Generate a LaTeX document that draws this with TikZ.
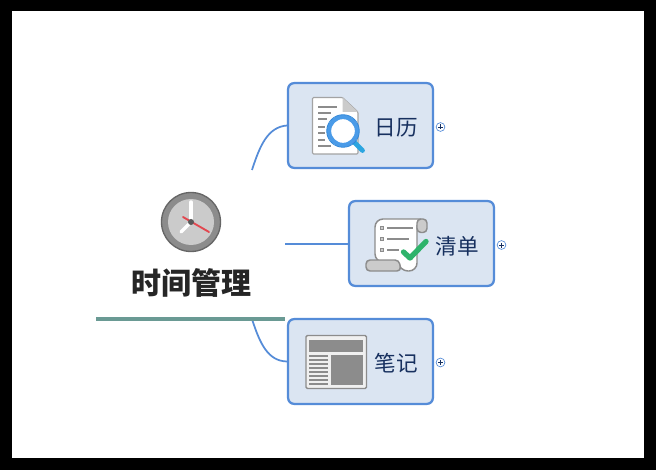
\documentclass[tikz,border=0pt]{standalone}
\usepackage{fontspec}
\newfontfamily\cjk{Noto Sans CJK SC}
\definecolor{boxblue}{HTML}{558CD8}
\definecolor{boxfill}{HTML}{DBE5F2}
\definecolor{labelblue}{HTML}{17305F}
\definecolor{barteal}{HTML}{6A9A94}
\definecolor{icongrey}{HTML}{8C8C8C}
\definecolor{lightgrey}{HTML}{CBCBCB}
\definecolor{lensblue}{HTML}{4A9BE8}
\definecolor{lensedge}{HTML}{2F86D8}
\definecolor{handleblue}{HTML}{2CA5E0}
\definecolor{checkgreen}{HTML}{2EB36B}
\definecolor{handred}{HTML}{E2474F}
\tikzset{
    topicbox/.style={draw=boxblue, line width=1.7pt, fill=boxfill, rounded corners=4.5pt, minimum width=108.6pt, minimum height=63.6pt, inner sep=0pt},
    topiclabel/.style={text=labelblue, font=\cjk\fontsize{16.2}{18}\selectfont, inner sep=0pt},
    branchline/.style={draw=boxblue, line width=1.3pt},
    foldmark/.style={draw=boxblue, fill=white, line width=0.5pt, inner sep=0pt, minimum size=6.6pt, circle},
}
\begin{document}
\begin{tikzpicture}[x=0.75pt, y=-0.75pt]
    \useasboundingbox (0,0) rectangle (656,470);
    \fill[black] (0,0) rectangle (656,470);
    \fill[white] (12,11) rectangle (644,458);

    % connectors
    \coordinate (rootup) at (252,170);
    \coordinate (rootmid) at (285,244);
    \coordinate (rootdown) at (252,319);

    % boxes
    \node[topicbox] (rili) at (360.5,125.5) {};
    \node[topicbox] (qingdan) at (421.5,243.5) {};
    \node[topicbox] (biji) at (360.5,361.5) {};

    \node[topiclabel] (rilitext) at (396,128) {日历};
    \node[topiclabel] (qingdantext) at (457,246) {清单};
    \node[topiclabel] (bijitext) at (396,363) {笔记};

    \draw[branchline] (rootup) .. controls (260,145) and (268,127) .. (rili.west);
    \draw[branchline] (rootmid) -- (qingdan.west |- rootmid);
    \draw[branchline] (rootdown) .. controls (260,344) and (268,361) .. (biji.west);

    % root
    \node[inner sep=0pt, font=\cjk\bfseries\fontsize{22.5}{24}\selectfont, text=black!85] (root) at (191,283) {时间管理};
    \coordinate (barleft) at (96,319);
    \coordinate (barright) at (285,319);
    \draw[barteal, line width=3.4pt] (barleft)--(barright);

    % fold marks
    \foreach \n/\px/\py in {a/440.5/127, b/501.5/245, c/440.5/362.5} {
        \node[foldmark] (fold\n) at (\px,\py) {};
        \draw[labelblue, line width=0.5pt] (\px-2.5,\py)--(\px+2.5,\py) (\px,\py-2.5)--(\px,\py+2.5);
    }

    % clock
    \coordinate (clock) at (191,222);
    \fill[icongrey] (clock) circle[radius=29.5];
    \draw[black!60, line width=1pt] (clock) circle[radius=29.5];
    \fill[lightgrey] (clock) circle[radius=23];
    \draw[white, line width=2.6pt, line cap=round] (clock)--(191,202);
    \draw[white, line width=2.6pt, line cap=round] (clock)--(181,232);
    \draw[handred, line width=1.4pt, line cap=round] (183,217)--(209,232);
    \fill[black!65] (clock) circle[radius=3];

    % document with lens
    \draw[icongrey!80, fill=white, line width=0.8pt, rounded corners=0.8pt] (312.5,97.5)--(342.5,97.5)--(358,112)--(358,154)--(312.5,154)--cycle;
    \fill[lightgrey] (342.5,97.5)--(358,112)--(342.5,112)--cycle;
    \foreach \ly/\lx in {107/337, 113/331, 119/327, 127/325, 133/325, 140/325, 146/331}
        \draw[icongrey, line width=1.1pt] (318,\ly)--(\lx,\ly);
    \draw[handleblue, line width=3.6pt, line cap=round] (354,142)--(362.5,150.5);
    \fill[white] (343,131) circle[radius=12];
    \draw[lensblue, line width=3.2pt] (343,131) circle[radius=14];
    \draw[lensedge, line width=0.6pt] (343,131) circle[radius=16.3];

    % scroll with check
    \draw[icongrey, fill=white, line width=1.1pt, rounded corners=6pt] (421,219)--(375,219)--(375,262)--(398,262)--(400,271)--(417,271)--(417,225);
    \draw[icongrey, fill=lightgrey, line width=1.1pt, rounded corners=3pt] (417,232.5)--(417,219)--(427,219)--(427,232.5)--cycle;
    \draw[icongrey, fill=lightgrey, line width=1.1pt, rounded corners=3pt] (366,260)--(399,260)--(401,271)--(366,271)--cycle;
    \foreach \ly/\lx in {228/413, 239/409, 250/399} {
        \draw[icongrey, line width=0.9pt, fill=lightgrey] (380.5,\ly-1.5) rectangle (383.5,\ly+1.5);
        \draw[icongrey, line width=1.2pt] (387,\ly)--(\lx,\ly);
    }
    \draw[checkgreen, line width=4pt, line cap=round, line join=round] (403.5,252)--(410,258)--(426,241.5);

    % newspaper
    \draw[black!45, fill=black!6, line width=1pt, rounded corners=1pt] (306,335.5) rectangle (366.5,388.5);
    \fill[icongrey] (309,340) rectangle (363,352);
    \fill[icongrey] (331,355) rectangle (363,385);
    \foreach \ly in {356,360,364,368,372,376,380,384}
        \draw[icongrey, line width=1pt] (309,\ly)--(328,\ly);
\end{tikzpicture}
\end{document}
